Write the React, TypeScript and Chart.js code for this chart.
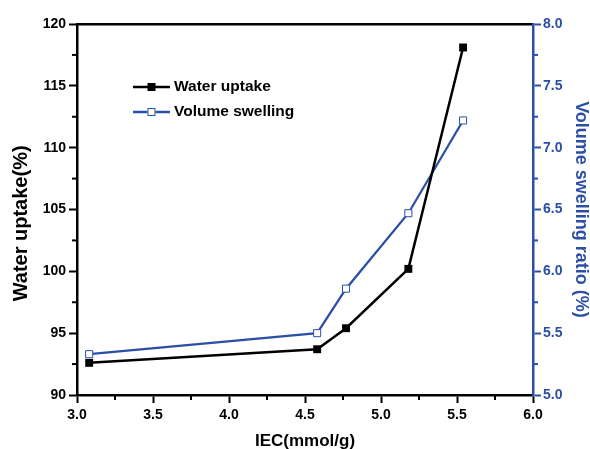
import React, { useEffect, useRef } from "react";
import { Chart, registerables } from "chart.js";

Chart.register(...registerables);

const iec = [3.08, 4.58, 4.77, 5.18, 5.54];
const waterUptake = [92.6, 93.7, 95.4, 100.2, 118.1];
const volumeSwelling = [5.33, 5.5, 5.86, 6.47, 7.22];
const seriesNames = ["Water uptake", "Volume swelling"];

const BLUE = "#2c4fa6";
const FONT = "'Liberation Sans', Arial, sans-serif";

const minorTicks = {
  id: "minorTicks",
  afterDraw(chart: any) {
    const ctx = chart.ctx;
    const drawFor = (scale: any, kind: string) => {
      const t = scale.ticks.map((k: any) => k.value);
      ctx.save();
      ctx.lineWidth = 2;
      ctx.strokeStyle = kind === "right" ? BLUE : "#000";
      for (let i = 0; i < t.length - 1; i++) {
        const v = (t[i] + t[i + 1]) / 2;
        const p = scale.getPixelForValue(v);
        ctx.beginPath();
        if (kind === "bottom") {
          ctx.moveTo(p, chart.chartArea.bottom);
          ctx.lineTo(p, chart.chartArea.bottom + 5);
        } else if (kind === "left") {
          ctx.moveTo(chart.chartArea.left, p);
          ctx.lineTo(chart.chartArea.left - 5, p);
        } else {
          ctx.moveTo(chart.chartArea.right, p);
          ctx.lineTo(chart.chartArea.right + 5, p);
        }
        ctx.stroke();
      }
      ctx.restore();
    };
    drawFor(chart.scales.x, "bottom");
    drawFor(chart.scales.y, "left");
    drawFor(chart.scales.y1, "right");
  },
};

const insideLegend = {
  id: "insideLegend",
  afterDraw(chart: any) {
    const ctx = chart.ctx;
    const x0 = 133;
    const x1 = 170;
    const rows = [
      { y: 87, color: "#000", filled: true, lw: 2.5 },
      { y: 112, color: BLUE, filled: false, lw: 2.3 },
    ];
    ctx.save();
    rows.forEach((r, i) => {
      ctx.strokeStyle = r.color;
      ctx.lineWidth = r.lw;
      ctx.beginPath();
      ctx.moveTo(x0, r.y);
      ctx.lineTo(x1, r.y);
      ctx.stroke();
      const cx = (x0 + x1) / 2;
      const s = 4;
      if (r.filled) {
        ctx.fillStyle = "#000";
        ctx.fillRect(cx - s, r.y - s, 2 * s, 2 * s);
      } else {
        ctx.fillStyle = "#fff";
        ctx.fillRect(cx - s, r.y - s, 2 * s, 2 * s);
        ctx.lineWidth = 1;
        ctx.strokeStyle = BLUE;
        ctx.strokeRect(cx - s + 0.5, r.y - s + 0.5, 2 * s - 1, 2 * s - 1);
      }
      ctx.fillStyle = "#000";
      ctx.font = `bold 15.5px ${FONT}`;
      ctx.textBaseline = "middle";
      ctx.textAlign = "left";
      ctx.fillText(seriesNames[i], 174, r.y);
    });
    ctx.restore();
  },
};

export default function App() {
  const ref = useRef<HTMLCanvasElement | null>(null);

  useEffect(() => {
    document.body.style.margin = "0";
    if (!ref.current) return;
    const tickFont = { family: FONT, size: 14, weight: "bold" as const };
    const chart = new Chart(ref.current, {
      type: "line",
      data: {
        datasets: [
          {
            label: seriesNames[0],
            data: iec.map((x, i) => ({ x, y: waterUptake[i] })),
            borderColor: "#000",
            backgroundColor: "#000",
            borderWidth: 2.5,
            pointStyle: "rect",
            pointRadius: 5.6,
            pointBorderWidth: 0,
            pointBackgroundColor: "#000",
            yAxisID: "y",
            xAxisID: "x",
            order: 1,
          },
          {
            label: seriesNames[1],
            data: iec.map((x, i) => ({ x, y: volumeSwelling[i] })),
            borderColor: BLUE,
            backgroundColor: "#fff",
            borderWidth: 2.3,
            pointStyle: "rect",
            pointRadius: 5,
            pointBorderWidth: 1,
            pointBorderColor: BLUE,
            pointBackgroundColor: "#fff",
            yAxisID: "y1",
            xAxisID: "x",
            order: 2,
          },
        ],
      },
      options: {
        responsive: false,
        animation: false,
        layout: { padding: 0 },
        plugins: {
          legend: { display: false },
          tooltip: { enabled: false },
        },
        scales: {
          x: {
            type: "linear",
            position: "bottom",
            min: 3,
            max: 6,
            ticks: {
              stepSize: 0.5,
              color: "#000",
              font: tickFont,
              padding: 4,
              callback: (v: any) => Number(v).toFixed(1),
            },
            grid: {
              drawOnChartArea: false,
              drawTicks: true,
              tickLength: 8,
              tickWidth: 2,
              color: "#000",
            },
            border: { display: true, color: "#000", width: 2.5 },
            title: {
              display: true,
              text: "IEC(mmol/g)",
              color: "#000",
              font: { family: FONT, size: 17, weight: "bold", lineHeight: 1 },
              padding: { top: 0, bottom: -1 },
            },
            afterFit: (s: any) => {
              s.height = 54;
            },
          },
          x2: {
            type: "linear",
            position: "top",
            min: 3,
            max: 6,
            ticks: { display: false },
            grid: { display: false, drawTicks: false },
            border: { display: true, color: "#000", width: 2.5 },
            afterFit: (s: any) => {
              s.height = 24;
            },
          },
          y: {
            type: "linear",
            position: "left",
            min: 90,
            max: 120,
            ticks: {
              stepSize: 5,
              color: "#000",
              font: tickFont,
              padding: 3,
            },
            grid: {
              drawOnChartArea: false,
              drawTicks: true,
              tickLength: 8,
              tickWidth: 2,
              color: "#000",
            },
            border: { display: true, color: "#000", width: 2.5 },
            title: {
              display: true,
              text: "Water uptake(%)     ",
              color: "#000",
              font: { family: FONT, size: 20, weight: "bold", lineHeight: 1 },
              padding: { top: 11, bottom: 0 },
            },
            afterFit: (s: any) => {
              s.width = 77;
            },
          },
          y1: {
            type: "linear",
            position: "right",
            min: 5,
            max: 8,
            ticks: {
              stepSize: 0.5,
              color: BLUE,
              font: tickFont,
              padding: 2,
              callback: (v: any) => Number(v).toFixed(1),
            },
            grid: {
              drawOnChartArea: false,
              drawTicks: true,
              tickLength: 8,
              tickWidth: 2,
              color: BLUE,
            },
            border: { display: true, color: BLUE, width: 2.5 },
            title: {
              display: true,
              text: "Volume swelling ratio (%)",
              color: BLUE,
              font: { family: FONT, size: 18, weight: "bold", lineHeight: 1 },
              padding: { top: 0, bottom: 0 },
            },
            afterFit: (s: any) => {
              s.width = 57;
            },
          },
        },
      },
      plugins: [minorTicks, insideLegend],
    });
    return () => chart.destroy();
  }, []);

  return (
    <div style={{ width: 590, height: 449 }}>
      <canvas ref={ref} width={590} height={449} style={{ display: "block", width: 590, height: 449 }} />
    </div>
  );
}
